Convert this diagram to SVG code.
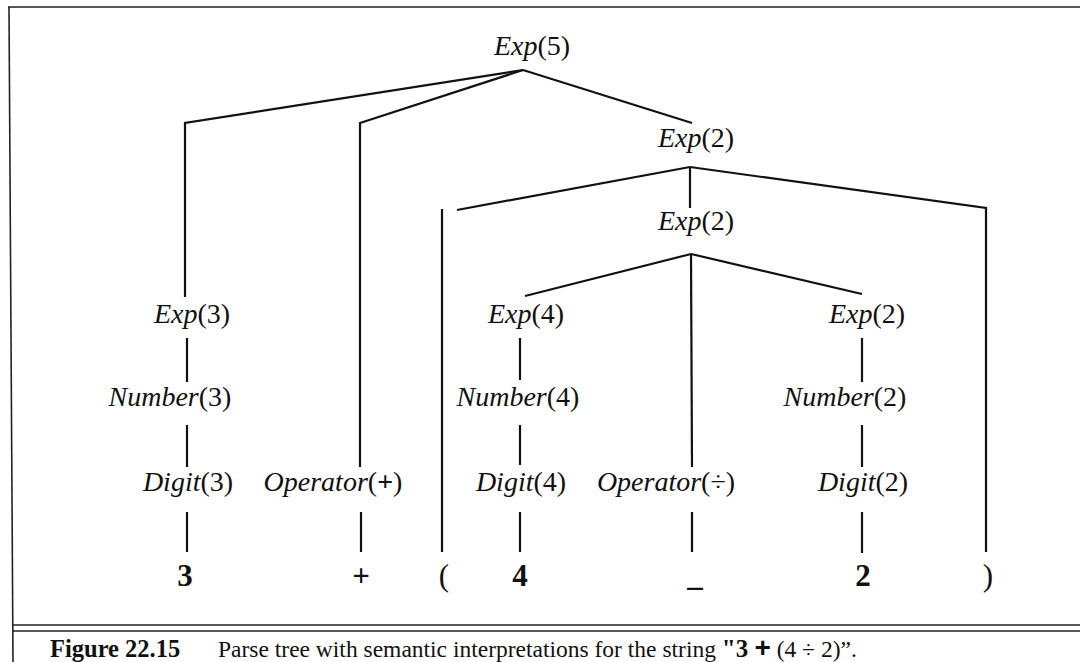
<svg xmlns="http://www.w3.org/2000/svg" width="1080" height="662" viewBox="0 0 1080 662">
<style>
.n{font-family:"Liberation Serif","Times New Roman",serif;font-size:28px;fill:#111;text-anchor:middle}
.i{font-style:italic}
.t{font-family:"Liberation Serif","Times New Roman",serif;font-size:31px;font-weight:bold;fill:#111;text-anchor:middle}
.p{font-weight:normal}
.c{font-family:"Liberation Serif","Times New Roman",serif;font-size:23.5px;fill:#111}
.e{fill:none;stroke:#111;stroke-width:2.2;stroke-linejoin:miter}
.b{fill:none;stroke:#222;stroke-width:1.6}
</style>
<rect width="1080" height="662" fill="#fff"/>
<g id="frame">
<line class="b" x1="8" y1="7" x2="1080" y2="7"/>
<line class="b" x1="9" y1="7" x2="13" y2="662"/>
<line class="b" x1="12" y1="625" x2="1080" y2="625"/>
<line class="b" x1="12" y1="631" x2="1080" y2="631"/>
</g>
<g id="connectors">
<polyline class="e" points="523,70 185,123 185,297"/>
<polyline class="e" points="523,70 360,123 360,467"/>
<polyline class="e" points="523,70 692,123"/>
<polyline class="e" points="690,167 457,210"/>
<polyline class="e" points="442,209 442,552"/>
<polyline class="e" points="690,167 690,208"/>
<polyline class="e" points="690,167 986,208 986,552"/>
<polyline class="e" points="691,254 525,296"/>
<polyline class="e" points="691,254 692,467"/>
<polyline class="e" points="691,254 862,294"/>
<line class="e" x1="187" y1="338" x2="187" y2="382"/>
<line class="e" x1="187" y1="425" x2="187" y2="467"/>
<line class="e" x1="187" y1="512" x2="187" y2="552"/>
<line class="e" x1="361" y1="512" x2="361" y2="552"/>
<line class="e" x1="520" y1="338" x2="520" y2="380"/>
<line class="e" x1="520" y1="425" x2="520" y2="465"/>
<line class="e" x1="520" y1="512" x2="520" y2="552"/>
<line class="e" x1="692" y1="512" x2="692" y2="552"/>
<line class="e" x1="862" y1="338" x2="862" y2="382"/>
<line class="e" x1="862" y1="425" x2="862" y2="467"/>
<line class="e" x1="862" y1="512" x2="862" y2="553"/>
</g>
<g id="exp5"><text class="n" x="532" y="55"><tspan class="i">Exp</tspan>(5)</text></g>
<g id="exp2a"><text class="n" x="696" y="147"><tspan class="i">Exp</tspan>(2)</text></g>
<g id="exp2b"><text class="n" x="696" y="230"><tspan class="i">Exp</tspan>(2)</text></g>
<g id="exp3"><text class="n" x="192" y="323"><tspan class="i">Exp</tspan>(3)</text></g>
<g id="number3"><text class="n" x="170" y="406"><tspan class="i">Number</tspan>(3)</text></g>
<g id="digit3"><text class="n" x="188" y="491"><tspan class="i">Digit</tspan>(3)</text></g>
<g id="opplus"><text class="n" x="333" y="491"><tspan class="i">Operator</tspan>(<tspan font-weight="bold">+</tspan>)</text></g>
<g id="exp4"><text class="n" x="526" y="323"><tspan class="i">Exp</tspan>(4)</text></g>
<g id="number4"><text class="n" x="518" y="406"><tspan class="i">Number</tspan>(4)</text></g>
<g id="digit4"><text class="n" x="521" y="491"><tspan class="i">Digit</tspan>(4)</text></g>
<g id="opdiv"><text class="n" x="666" y="491"><tspan class="i">Operator</tspan>(÷)</text></g>
<g id="exp2c"><text class="n" x="867" y="323"><tspan class="i">Exp</tspan>(2)</text></g>
<g id="number2"><text class="n" x="845" y="406"><tspan class="i">Number</tspan>(2)</text></g>
<g id="digit2"><text class="n" x="863" y="491"><tspan class="i">Digit</tspan>(2)</text></g>
<g id="tok3"><text class="t" x="185" y="586">3</text></g>
<g id="tokplus"><text class="t" x="361" y="586">+</text></g>
<g id="toklp"><text class="t p" x="444" y="586">(</text></g>
<g id="tok4"><text class="t" x="520" y="586">4</text></g>
<g id="tokdiv"><text class="t" x="695" y="586">_</text></g>
<g id="tok2"><text class="t" x="863" y="586">2</text></g>
<g id="tokrp"><text class="t p" x="988" y="586">)</text></g>
<g id="caption">
<text class="c" x="50" y="657"><tspan font-weight="bold" font-size="24.5">Figure 22.15</tspan><tspan x="218">Parse tree with semantic interpretations for the string </tspan><tspan font-weight="bold" font-size="25">"3 </tspan><tspan font-family="Liberation Sans" font-weight="bold" font-size="28">+</tspan><tspan> (4 ÷ 2)”.</tspan></text>
</g>
</svg>
